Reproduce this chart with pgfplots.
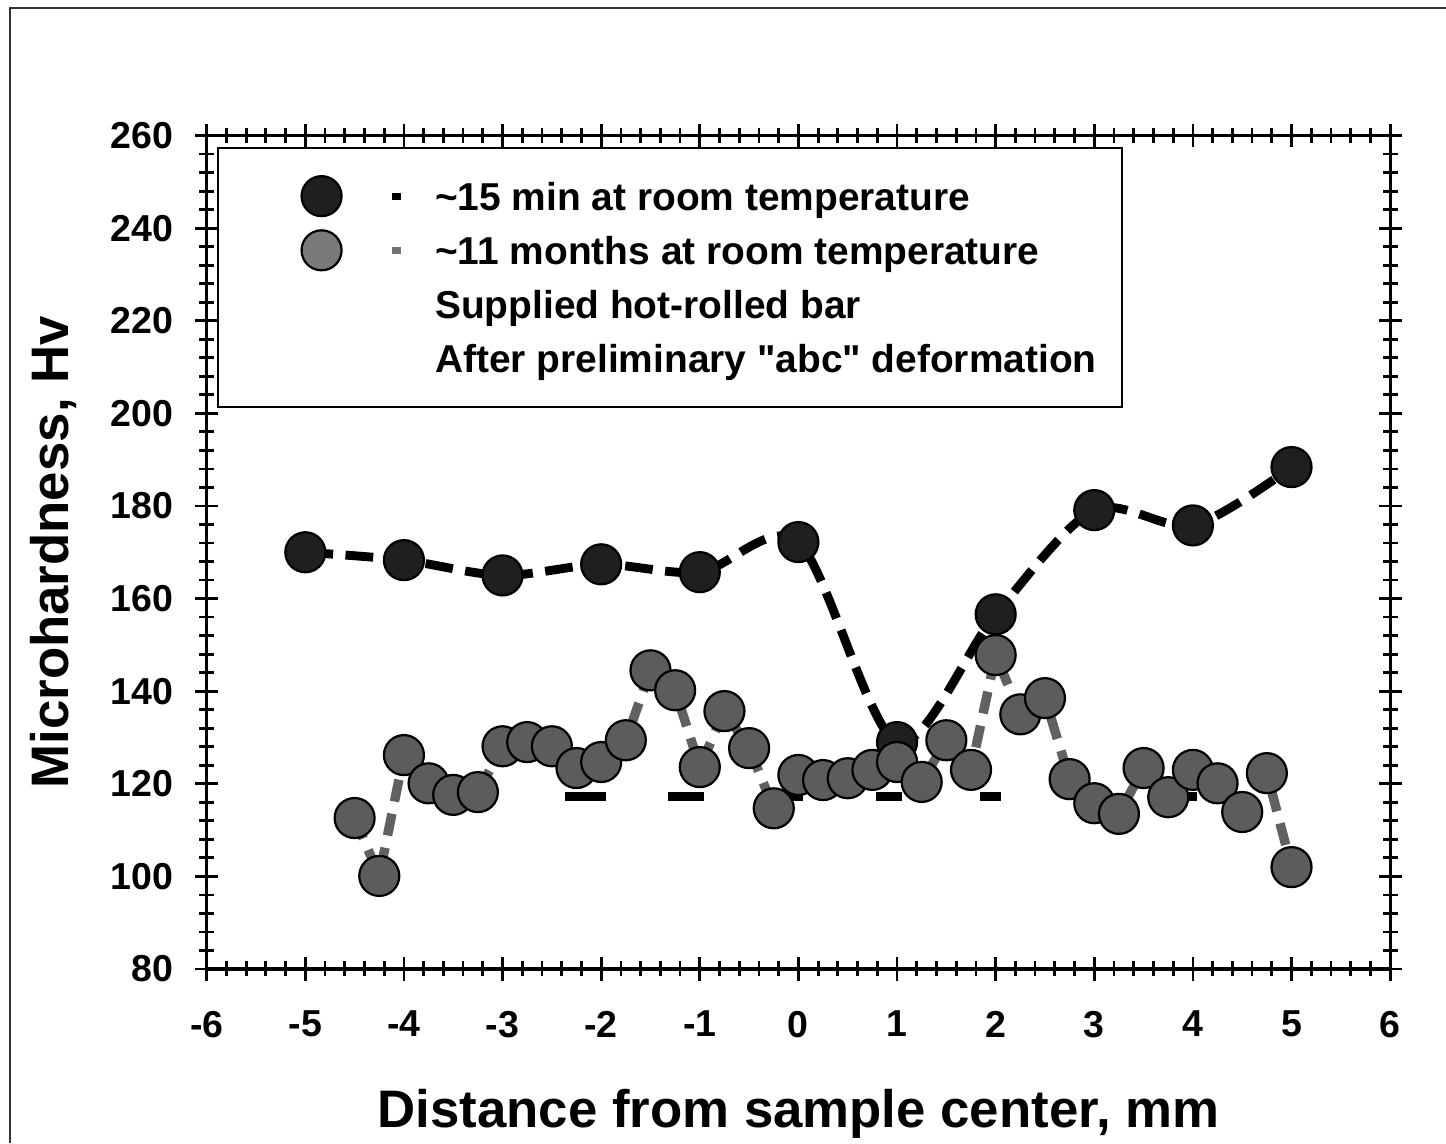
\documentclass[border=0pt]{standalone}
\usepackage{fontspec}
\setmainfont{Liberation Sans}[Ligatures=TeXOff]
\usepackage{pgfplots}
\pgfplotsset{compat=1.18}

\pgfplotsset{
  legA/.style={legend image code/.code={
    \path[draw=none, fill=none] (-28.3pt,0pt) -- (40.9pt,0pt);
    \path[##1] plot[only marks] coordinates {(0pt,0pt)};
    \fill[black, draw=none] (25.4pt,-1.3pt) rectangle (28.6pt,1.3pt);
  }},
  legB/.style={legend image code/.code={
    \path[draw=none, fill=none] (-28.3pt,0pt) -- (40.9pt,0pt);
    \path[##1, mark options={solid, fill=black!52, draw=black, line width=0.8pt}] plot[only marks] coordinates {(0pt,0pt)};
    \fill[black!55, draw=none] (25.4pt,-1.3pt) rectangle (28.6pt,1.3pt);
  }},
}

\begin{document}
\begin{tikzpicture}
\begin{axis}[
  scale only axis, width=426pt, height=300pt,
  xmin=-6, xmax=6, ymin=80, ymax=260,
  xtick distance=1, ytick distance=20,
  minor x tick num=4, minor y tick num=4,
  tick pos=both, tick align=center,
  major tick length=8.3pt, minor tick length=5.4pt,
  every tick/.style={black, line width=1pt},
  axis line style={line width=1.1pt},
  /pgf/number format/assume math mode=true,
  tick label style={font=\fontsize{13.5}{16}\selectfont\bfseries},
  xticklabel style={yshift=-7.4pt},
  yticklabel style={xshift=-4.4pt},
  label style={font=\fontsize{19}{22}\selectfont\bfseries},
  xlabel={Distance from sample center, mm},
  ylabel={Microhardness, Hv},
  xlabel style={at={(axis description cs:0.5,0)}, anchor=base, yshift=-56.9pt},
  ylabel style={at={([xshift=-49.6pt]axis description cs:0,0.5)}, anchor=base},
  unbounded coords=jump,
  legend style={
    at={(axis description cs:0.0087,0.9868)}, anchor=north west,
    draw=black, line width=0.7pt,
    font=\fontsize{14}{16}\selectfont\bfseries,
    inner xsep=9pt, inner ysep=9.5pt, row sep=3.5pt,
    cells={anchor=west},
    nodes={inner xsep=0pt, inner ysep=3pt, text height=10pt, text depth=0pt},
  },
]

% ~15 min at room temperature
\addplot[smooth, black, line width=3.2pt, dash pattern=on 10pt off 4.5pt,
  mark=*, mark size=7.2pt,
  mark options={solid, fill=black!88, draw=black, line width=0.8pt},
  legA]
coordinates {
(-5,170.0) (-4,168.3) (-3,165.0) (-2,167.4) (-1,165.7) (0,172.2)
(1,129.0) (2,156.6) (3,179.1) (4,175.8) (5,188.4)
};
\addlegendentry{\textasciitilde15 min at room temperature}

% ~11 months at room temperature
\addplot[black!62, line width=3.4pt, dash pattern=on 8pt off 4.5pt,
  mark=*, mark size=7.2pt,
  mark options={solid, fill=black!64, draw=black, line width=0.8pt},
  legB]
coordinates {
(-4.5,112.6) (-4.25,100.1) (-4,126.2) (-3.75,120.1) (-3.5,117.6) (-3.25,118.2)
(-3,128.1) (-2.75,129.0) (-2.5,128.1) (-2.25,123.4) (-2,124.7) (-1.75,129.4)
(-1.5,144.5) (-1.25,140.2) (-1,123.6) (-0.75,135.7) (-0.5,127.7) (-0.25,114.7)
(0,121.9) (0.25,120.8) (0.5,121.2) (0.75,123.0) (1,124.7) (1.25,120.4)
(1.5,129.4) (1.75,123.0) (2,147.8) (2.25,135.0) (2.5,138.5) (2.75,121.0)
(3,115.8) (3.25,113.5) (3.5,123.4) (3.75,117.1) (4,123.0) (4.25,120.1)
(4.5,113.9) (4.75,122.3) (5,102.0)
};
\addlegendentry{\textasciitilde11 months at room temperature}

% Supplied hot-rolled bar
\addplot[black, line width=3.4pt, forget plot] coordinates {
(-2.368,117.3) (-1.951,117.3) (-1.9,nan)
(-1.321,117.3) (-0.956,117.3) (-0.9,nan)
(-0.270,117.3) (0.048,117.3) (0.1,nan)
(0.788,117.3) (1.052,117.3) (1.1,nan)
(1.843,117.3) (2.053,117.3) (2.1,nan)
(2.887,117.3) (3.040,117.3) (3.1,nan)
(3.942,117.3) (4.043,117.3)
};
\addlegendimage{empty legend}
\addlegendentry{Supplied hot-rolled bar}
\addlegendimage{empty legend}
\addlegendentry{After preliminary "abc" deformation}
\end{axis}
\draw[line width=0.8pt, black!80] (-70.8pt,-62.64pt) -- (-70.8pt,346pt) -- (446.1pt,346pt);
\pgfresetboundingbox
\path[use as bounding box] (-74.4pt,-62.64pt) rectangle (446.1pt,348.8pt);
\end{tikzpicture}
\end{document}
